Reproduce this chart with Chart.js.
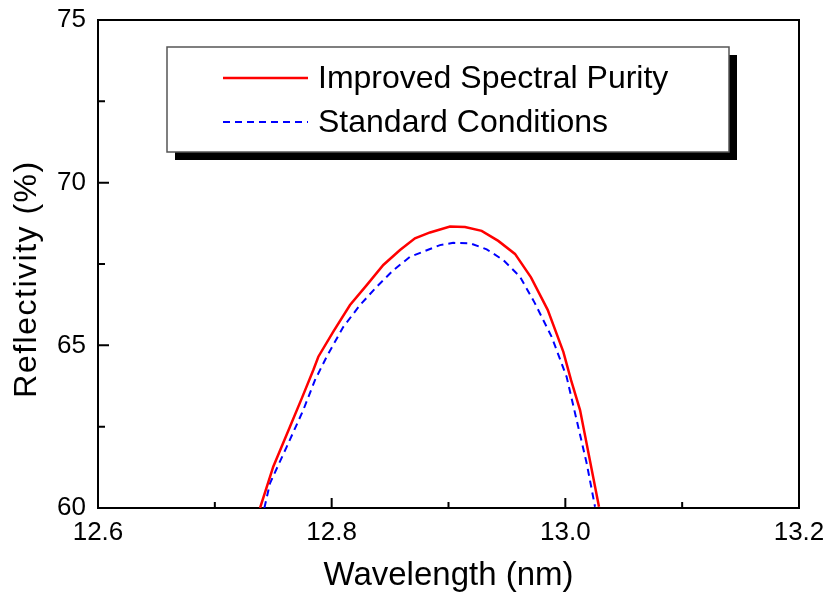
<!DOCTYPE html>
<html>
<head>
<meta charset="utf-8">
<title>Reflectivity vs Wavelength</title>
<script src="https://cdn.jsdelivr.net/npm/chart.js@4/dist/chart.umd.min.js"></script>
<style>
    html, body { margin: 0; padding: 0; background: #fff; }
    #wrap { width: 824px; height: 596px; }
</style>
</head>
<body>
<div id="wrap"><canvas id="chart" width="824" height="596"></canvas></div>
<script>
// Data
const improvedX = [12.7387, 12.750, 12.7643, 12.7744, 12.7843, 12.7886, 12.8014, 12.8157, 12.830, 12.8442, 12.8585, 12.8713, 12.8842, 12.9013, 12.9141, 12.9284, 12.9426, 12.9569, 12.9706, 12.9849, 12.9983, 13.0049, 13.0126, 13.0288];
const improvedY = [60.0, 61.27, 62.50, 63.37, 64.24, 64.65, 65.42, 66.24, 66.85, 67.47, 67.93, 68.29, 68.47, 68.65, 68.64, 68.52, 68.21, 67.81, 67.09, 66.09, 64.80, 63.93, 63.01, 60.04];

const standardX = [12.7424, 12.7472, 12.7615, 12.7757, 12.7857, 12.7957, 12.810, 12.8243, 12.8385, 12.8528, 12.867, 12.8842, 12.8927, 12.9041, 12.9184, 12.9327, 12.9469, 12.9612, 12.974, 12.9883, 13.0011, 13.0097, 13.0183, 13.0254];
const standardY = [60.0, 60.76, 61.88, 63.01, 63.93, 64.65, 65.57, 66.24, 66.80, 67.31, 67.72, 67.96, 68.08, 68.15, 68.14, 67.95, 67.62, 67.11, 66.29, 65.26, 64.03, 62.70, 61.37, 60.04];

const seriesLabels = ['Improved Spectral Purity', 'Standard Conditions'];
const xTicks = [12.6, 12.8, 13.0, 13.2];
const yTicks = [60, 65, 70, 75];

const FONT = "'Liberation Sans', Arial, Helvetica, sans-serif";

const toPoints = (xs, ys) => xs.map((x, i) => ({ x, y: ys[i] }));

// inward major + minor ticks, drawn on top of the axis lines
const inwardTicks = {
    id: 'inwardTicks',
    afterDatasetsDraw(chart) {
        const { ctx, chartArea: a, scales: { x, y } } = chart;
        ctx.save();
        ctx.strokeStyle = '#000';
        ctx.lineWidth = 2;
        ctx.beginPath();
        xTicks.forEach((v, i) => {
            const px = x.getPixelForValue(v);
            ctx.moveTo(px, a.bottom); ctx.lineTo(px, a.bottom - 10);
            if (i < xTicks.length - 1) {
                const mx = x.getPixelForValue((v + xTicks[i + 1]) / 2);
                ctx.moveTo(mx, a.bottom); ctx.lineTo(mx, a.bottom - 6);
            }
        });
        yTicks.forEach((v, i) => {
            const py = y.getPixelForValue(v);
            ctx.moveTo(a.left, py); ctx.lineTo(a.left + 11, py);
            if (i < yTicks.length - 1) {
                const my = y.getPixelForValue((v + yTicks[i + 1]) / 2);
                ctx.moveTo(a.left, my); ctx.lineTo(a.left + 7, my);
            }
        });
        ctx.stroke();
        ctx.restore();
    }
};

// y axis title, drawn by hand so it can sit a little low with wide spacing like the original
const yTitle = {
    id: 'yTitle',
    afterDraw(chart) {
        const { ctx } = chart;
        ctx.save();
        ctx.translate(27, 279);
        ctx.rotate(-Math.PI / 2);
        ctx.fillStyle = '#000';
        ctx.font = `32px ${FONT}`;
        ctx.letterSpacing = '1.5px';
        ctx.textAlign = 'center';
        ctx.textBaseline = 'middle';
        ctx.fillText('Reflectivity (%)', 0, 0);
        ctx.restore();
    }
};

// boxed legend with a solid drop shadow
const shadowLegend = {
    id: 'shadowLegend',
    afterDraw(chart) {
        const { ctx } = chart;
        const bx = 167, by = 47, bw = 562, bh = 105, sh = 8;
        ctx.save();
        ctx.fillStyle = '#000';
        ctx.fillRect(bx + sh, by + bh, bw, sh);
        ctx.fillRect(bx + bw, by + sh, sh, bh);
        ctx.fillStyle = '#fff';
        ctx.fillRect(bx, by, bw, bh);
        ctx.strokeStyle = '#555';
        ctx.lineWidth = 1.5;
        ctx.strokeRect(bx, by, bw, bh);

        const rows = [78, 122];
        chart.data.datasets.forEach((ds, i) => {
            const ly = rows[i];
            ctx.beginPath();
            ctx.strokeStyle = ds.borderColor;
            ctx.lineWidth = ds.borderWidth;
            ctx.setLineDash(ds.borderDash || []);
            ctx.moveTo(223, ly);
            ctx.lineTo(308, ly);
            ctx.stroke();
            ctx.setLineDash([]);
            ctx.fillStyle = '#000';
            ctx.font = `32px ${FONT}`;
            ctx.textBaseline = 'middle';
            ctx.fillText(ds.label, 318, ly + 1);
        });
        ctx.restore();
    }
};

new Chart(document.getElementById('chart'), {
    type: 'line',
    data: {
        datasets: [
            {
                label: seriesLabels[0],
                data: toPoints(improvedX, improvedY),
                borderColor: '#ff0000',
                borderWidth: 2.5,
                pointRadius: 0,
                tension: 0,
                fill: false,
            },
            {
                label: seriesLabels[1],
                data: toPoints(standardX, standardY),
                borderColor: '#0000ff',
                borderWidth: 2,
                borderDash: [7, 5],
                pointRadius: 0,
                tension: 0,
                fill: false,
            }
        ]
    },
    options: {
        responsive: false,
        animation: false,
        events: [],
        layout: { padding: { left: 0, top: 20, right: 25, bottom: 0 } },
        plugins: {
            legend: { display: false },
            tooltip: { enabled: false },
        },
        scales: {
            x: {
                type: 'linear',
                min: 12.6,
                max: 13.2,
                afterFit: s => { s.height = 88; s.paddingLeft = 0; s.paddingRight = 0; },
                afterBuildTicks: s => { s.ticks = xTicks.map(v => ({ value: v })); },
                grid: { display: false, drawTicks: false },
                border: { display: true, color: '#000', width: 2 },
                ticks: {
                    padding: 9,
                    maxRotation: 0,
                    color: '#000',
                    font: { family: FONT, size: 26 },
                    callback: v => v.toFixed(1),
                },
                title: {
                    display: true,
                    text: 'Wavelength (nm)',
                    color: '#000',
                    font: { family: FONT, size: 33, lineHeight: 1.2 },
                    padding: { top: 0, bottom: 0 },
                },
            },
            y: {
                min: 60,
                max: 75,
                afterFit: s => { s.width = 98; s.paddingTop = 0; s.paddingBottom = 0; },
                afterBuildTicks: s => { s.ticks = yTicks.map(v => ({ value: v })); },
                grid: { display: false, drawTicks: false },
                border: { display: true, color: '#000', width: 2 },
                ticks: {
                    padding: 12,
                    color: '#000',
                    font: { family: FONT, size: 26 },
                },
                title: { display: false },
            },
        },
    },
    plugins: [
        {
            // top and right frame lines
            id: 'frame',
            afterDatasetsDraw(chart) {
                const { ctx, chartArea: a } = chart;
                ctx.save();
                ctx.strokeStyle = '#000';
                ctx.lineWidth = 2;
                ctx.beginPath();
                ctx.moveTo(a.left, a.top); ctx.lineTo(a.right, a.top); ctx.lineTo(a.right, a.bottom);
                ctx.stroke();
                ctx.restore();
            }
        },
        inwardTicks,
        yTitle,
        shadowLegend,
    ],
});
</script>
</body>
</html>
